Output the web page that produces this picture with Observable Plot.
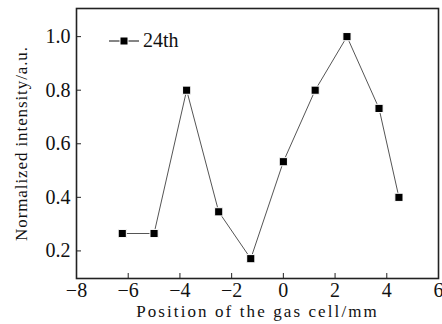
<!DOCTYPE html>
<html>
<head>
<meta charset="utf-8">
<script src="https://cdn.jsdelivr.net/npm/d3@7"></script>
<script src="https://cdn.jsdelivr.net/npm/@observablehq/plot@0.6"></script>
<style>
  html, body { margin: 0; padding: 0; background: #fff; }
  #chart { position: relative; width: 442px; height: 324px; }
  #chart svg, #chart svg text { font-family: "Liberation Serif", "Times New Roman", serif !important; font-size: 17px; fill: #111; }
  #chart [aria-label="x-axis tick label"] text, #chart [aria-label="y-axis tick label"] text { font-size: 20px; }
  #chart [aria-label="x-axis label"] text { letter-spacing: 2.1px; font-size: 17px; }
  #chart [aria-label="y-axis label"] text { letter-spacing: 0.9px; font-size: 17px; }
  #legend { position: absolute; left: 108px; top: 29px; font-family: "Liberation Serif", serif; font-size: 20px; display: flex; align-items: center; color: #111; }
</style>
</head>
<body>
<div id="chart"></div>
<script>
// Data
const positions = [-6.23, -5.0, -3.74, -2.5, -1.26, 0, 1.23, 2.46, 3.7, 4.47];
const intensities = [0.265, 0.265, 0.80, 0.346, 0.171, 0.533, 0.80, 1.0, 0.732, 0.40];
const seriesName = "24th";
const xTicks = [-8, -6, -4, -2, 0, 2, 4, 6];
const yTicks = [0.2, 0.4, 0.6, 0.8, 1.0];
const xLabel = "Position of the gas cell/mm";
const yLabel = "Normalized intensity/a.u.";

const data = positions.map((p, i) => ({x: p, y: intensities[i]}));

const chart = Plot.plot({
  width: 442,
  height: 324,
  marginLeft: 76,
  marginRight: 4,
  marginTop: 8,
  marginBottom: 46,
  style: {"font-size": "17px", "font-family": "Liberation Serif, serif", color: "#111", background: "white"},
  x: {domain: [-8, 6]},
  y: {domain: [0.097, 1.105]},
  marks: [
    Plot.axisX({ticks: xTicks, tickSize: -5, tickPadding: 9, tickFormat: d => (d < 0 ? "\u2212" + Math.abs(d) : String(d)), label: xLabel, labelAnchor: "center", labelArrow: "none", labelOffset: 38, stroke: "#222"}),
    Plot.axisY({ticks: yTicks, tickSize: -5, tickPadding: 11, tickFormat: d3.format(".1f"), label: yLabel, labelAnchor: "center", labelArrow: "none", labelOffset: 62, stroke: "#222"}),
    Plot.frame({stroke: "#222", strokeWidth: 1.6}),
    Plot.line(data, {x: "x", y: "y", stroke: "#555", strokeWidth: 1}),
    Plot.dot(data, {x: "x", y: "y", symbol: "square", r: 4.6, fill: "#000", stroke: "#fff", strokeWidth: 1})
  ]
});
const host = document.getElementById("chart");
host.appendChild(chart);

const legend = document.createElement("div");
legend.id = "legend";
legend.innerHTML = `<svg width="32" height="12" style="margin-right:3px"><line x1="1" x2="31" y1="6" y2="6" stroke="#333" stroke-width="1.2"/><rect x="12" y="2" width="8" height="8" fill="#000" stroke="#fff" stroke-width="1"/></svg><span>${seriesName}</span>`;
host.appendChild(legend);
</script>
</body>
</html>
